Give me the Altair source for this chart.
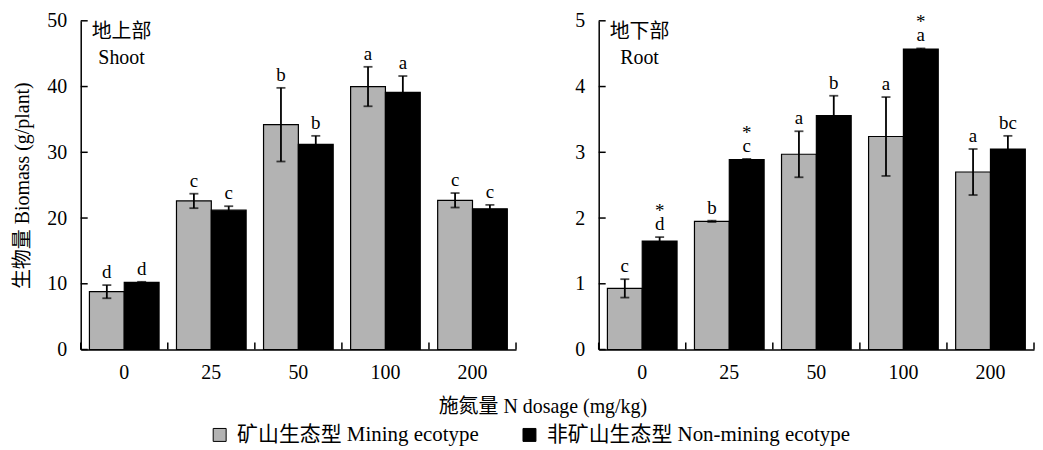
import altair as alt
import pandas as pd

# ---------------- data ----------------
doses = ["0", "25", "50", "100", "200"]
ecotypes = ["矿山生态型 Mining ecotype", "非矿山生态型 Non-mining ecotype"]
boundaries = [0, 1, 2, 3, 4, 5]

shoot_ticks = [0, 10, 20, 30, 40, 50]
shoot_mining = [8.8, 22.6, 34.2, 40.0, 22.7]
shoot_mining_err = [1.0, 1.1, 5.6, 3.0, 1.1]
shoot_non = [10.2, 21.2, 31.2, 39.1, 21.4]
shoot_non_err = [0.1, 0.6, 1.3, 2.5, 0.6]
shoot_mining_letters = ["d", "c", "b", "a", "c"]
shoot_non_letters = ["d", "c", "b", "a", "c"]
shoot_non_stars = ["", "", "", "", ""]

root_ticks = [0, 1, 2, 3, 4, 5]
root_mining = [0.93, 1.95, 2.97, 3.24, 2.70]
root_mining_err = [0.14, 0.01, 0.35, 0.60, 0.35]
root_non = [1.65, 2.89, 3.56, 4.57, 3.05]
root_non_err = [0.06, 0.01, 0.30, 0.01, 0.20]
root_mining_letters = ["c", "b", "a", "a", "a"]
root_non_letters = ["d", "c", "b", "a", "bc"]
root_non_stars = ["*", "*", "", "*", ""]

FONT = "Liberation Serif, Noto Sans CJK SC"
W, H = 437, 330


def make_df(m, me, n, ne, ml, nl, ns):
    rows = []
    for i, d in enumerate(doses):
        rows.append(dict(dose=d, eco=ecotypes[0], mean=m[i], lo=m[i] - me[i],
                         hi=m[i] + me[i], letter=ml[i], star=""))
        rows.append(dict(dose=d, eco=ecotypes[1], mean=n[i], lo=n[i] - ne[i],
                         hi=n[i] + ne[i], letter=nl[i], star=ns[i]))
    return pd.DataFrame(rows)


def panel(df, ymax, yticks, cn, en, ytitle=None, legend=None, xtitle=None):
    xsc = alt.Scale(paddingInner=0.2, paddingOuter=0.1)
    xax = alt.Axis(title=None, labelAngle=0, ticks=False, domainColor="black",
                   domainWidth=1.5, labelPadding=13, labelFontSize=20,
                   labelFont=FONT, labelColor="black")
    X = alt.X("dose:N", sort=doses, scale=xsc, axis=xax)
    Xn = alt.X("dose:N", sort=doses, scale=xsc, axis=None)
    XO = alt.XOffset("eco:N", sort=ecotypes,
                     scale=alt.Scale(paddingInner=0, paddingOuter=0))
    ysc = alt.Scale(domain=[0, ymax], nice=False, zero=True)
    yax_kw = dict(values=yticks, ticks=False, grid=False, domainColor="black",
                  domainWidth=1.5, labelPadding=14, labelFontSize=20,
                  labelFont=FONT, labelColor="black")
    if ytitle:
        yax_kw.update(title=ytitle, titleFont=FONT, titleFontSize=20,
                      titleFontWeight="normal", titleColor="black",
                      titlePadding=14)
    else:
        yax_kw.update(title=None)
    yax = alt.Axis(**yax_kw)

    fill_kw = dict(sort=ecotypes,
                   scale=alt.Scale(domain=ecotypes, range=["#b3b3b3", "#000000"]))
    if legend is not None:
        fill_kw["legend"] = legend
    else:
        fill_kw["legend"] = None

    bars = alt.Chart(df).mark_bar(stroke="black", strokeWidth=1.2).encode(
        x=X, xOffset=XO, y=alt.Y("mean:Q", scale=ysc, axis=yax),
        fill=alt.Fill("eco:N", **fill_kw))
    err = alt.Chart(df).mark_rule(color="black", strokeWidth=1.8).encode(
        x=Xn, xOffset=XO, y=alt.Y("lo:Q", scale=ysc, axis=yax), y2="hi:Q")
    cap_hi = alt.Chart(df).mark_tick(color="black", thickness=1.8, size=9).encode(
        x=Xn, xOffset=XO, y=alt.Y("hi:Q", scale=ysc, axis=yax))
    cap_lo = alt.Chart(df).mark_tick(color="black", thickness=1.8, size=9).encode(
        x=Xn, xOffset=XO, y=alt.Y("lo:Q", scale=ysc, axis=yax))
    letters = alt.Chart(df).mark_text(font=FONT, fontSize=19, baseline="alphabetic",
                                      dy=-7, color="black").encode(
        x=Xn, xOffset=XO, y=alt.Y("hi:Q", scale=ysc, axis=yax), text="letter:N")
    stars = alt.Chart(df).mark_text(font=FONT, fontSize=19, baseline="alphabetic",
                                    dy=-20, color="black").encode(
        x=Xn, xOffset=XO, y=alt.Y("hi:Q", scale=ysc, axis=yax), text="star:N")
    ytk = alt.Chart(pd.DataFrame({"v": yticks})).mark_rule(
        color="black", strokeWidth=1.5).encode(
        y=alt.Y("v:Q", scale=ysc, axis=yax), x=alt.value(0), x2=alt.value(7))
    xtk = alt.Chart(pd.DataFrame({"b": boundaries})).mark_rule(
        color="black", strokeWidth=1.5).encode(
        x=alt.X("b:Q", scale=alt.Scale(domain=[0, 5], nice=False, zero=False),
                axis=None),
        y=alt.value(H), y2=alt.value(H - 7))
    lab1 = alt.Chart(pd.DataFrame({"t": [cn]})).mark_text(
        font=FONT, fontSize=20, color="black", baseline="middle").encode(
        text="t:N", x=alt.value(41), y=alt.value(11))
    lab2 = alt.Chart(pd.DataFrame({"t": [en]})).mark_text(
        font=FONT, fontSize=20, color="black", baseline="middle").encode(
        text="t:N", x=alt.value(41), y=alt.value(37))
    layers = [bars, err, cap_hi, cap_lo, letters, stars, ytk, xtk, lab1, lab2]
    if xtitle:
        layers.append(alt.Chart(pd.DataFrame({"t": [xtitle]})).mark_text(
            font=FONT, fontSize=20, color="black", baseline="middle").encode(
            text="t:N", x=alt.value(464), y=alt.value(388)))
    return alt.layer(*layers).resolve_scale(x="independent").properties(
        width=W, height=H)


shoot_df = make_df(shoot_mining, shoot_mining_err, shoot_non, shoot_non_err,
                   shoot_mining_letters, shoot_non_letters, shoot_non_stars)
root_df = make_df(root_mining, root_mining_err, root_non, root_non_err,
                  root_mining_letters, root_non_letters, root_non_stars)

legend = alt.Legend(title=None, orient="none", legendX=129, legendY=405,
                    direction="horizontal", symbolType="square", symbolSize=169,
                    symbolStrokeColor="black", symbolStrokeWidth=1,
                    labelFont=FONT, labelFontSize=21, labelColor="black",
                    labelLimit=600, labelOffset=7, columnPadding=40)

left = panel(shoot_df, 50, shoot_ticks, "地上部", "Shoot",
             ytitle="生物量 Biomass (g/plant)", legend=legend,
             xtitle="施氮量 N dosage (mg/kg)")
right = panel(root_df, 5, root_ticks, "地下部", "Root")

chart = alt.hconcat(left, right, spacing=83, bounds="flush").resolve_scale(
    fill="independent").properties(
    padding={"left": 5, "top": 2, "right": 0, "bottom": 0}
).configure_view(stroke=None)

chart.save("out.html", embed_options={"renderer": "svg", "actions": False})
